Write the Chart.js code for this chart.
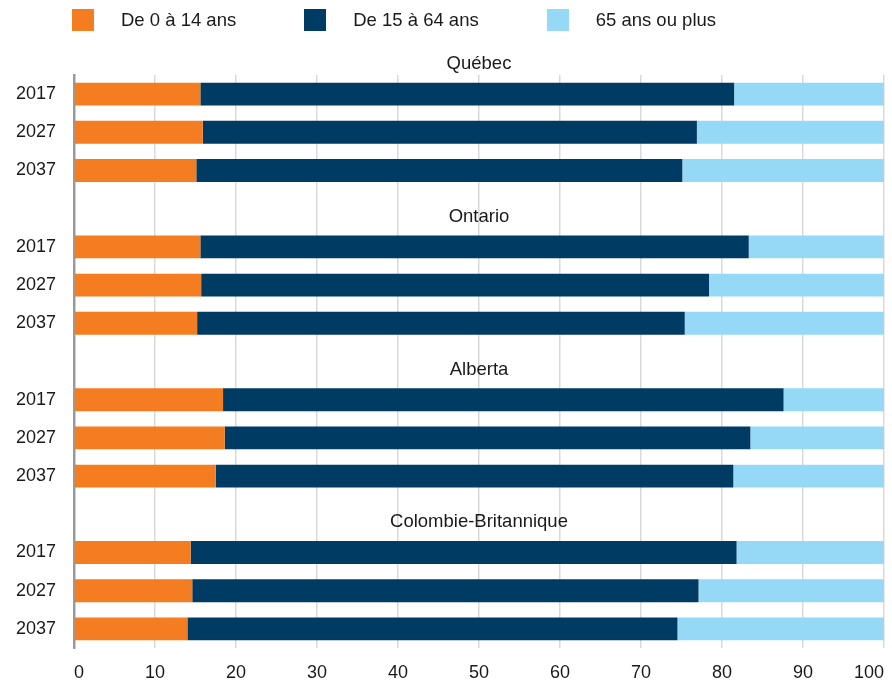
<!DOCTYPE html>
<html lang="fr">
<head>
<meta charset="utf-8">
<script src="https://cdn.jsdelivr.net/npm/chart.js@4.4.1/dist/chart.umd.min.js"></script>
<style>
  html, body { margin: 0; padding: 0; background: #fff; }
  #wrap { position: relative; width: 892px; height: 683px; }
  #chart { position: absolute; left: 0; top: 0; }
  #legend { position: absolute; top: 9px; left: 72px; display: flex; align-items: center;
            font: 18.5px "Liberation Sans", Arial, sans-serif; color: #1a1a1a; }
  .item { display: flex; align-items: center; margin-right: 68px; }
  .box { width: 22px; height: 22px; margin-right: 27px; }
</style>
</head>
<body>
<div id="wrap">
  <canvas id="chart" width="892" height="683"></canvas>
  <div id="legend"></div>
</div>
<script>
const provinces = ['Québec', 'Ontario', 'Alberta', 'Colombie-Britannique'];
const years = ['2017', '2027', '2037'];
const seriesNames = ['De 0 à 14 ans', 'De 15 à 64 ans', '65 ans ou plus'];
const seriesColors = ['#f47c21', '#003b63', '#96d9f7'];
// shares in %, province by province, 2017 / 2027 / 2037
const age0to14  = [15.6, 15.9, 15.1,  15.6, 15.7, 15.2,  18.4, 18.6, 17.5,  14.4, 14.6, 14.0];
const age15to64 = [65.9, 61.0, 60.0,  67.7, 62.7, 60.2,  69.2, 64.9, 63.9,  67.4, 62.5, 60.5];
const age65plus = [18.5, 23.1, 24.9,  16.7, 21.6, 24.6,  12.4, 16.5, 18.6,  18.2, 22.9, 25.5];
const xTickValues = [0, 10, 20, 30, 40, 50, 60, 70, 80, 90, 100];

const FONT = '"Liberation Sans", Arial, sans-serif';

// one row per year, plus an empty row before each province after the first (its title goes there)
const labels = [];
const firstRow = [];
const rowIndex = [];
provinces.forEach((p, i) => {
    if (i > 0) labels.push('');
    firstRow.push(labels.length);
    years.forEach(y => {
        rowIndex.push(labels.length);
        labels.push(y);
    });
});

function toRows(values) {
    const out = labels.map(() => null);
    values.forEach((v, k) => { out[rowIndex[k]] = v; });
    return out;
}

const allSeries = [age0to14, age15to64, age65plus];

// legend
const legend = document.getElementById('legend');
seriesNames.forEach((name, i) => {
    const item = document.createElement('div');
    item.className = 'item';
    item.innerHTML = `<div class="box" style="background:${seriesColors[i]}"></div><span>${name}</span>`;
    legend.appendChild(item);
});

const groupTitles = {
    id: 'groupTitles',
    afterDraw(chart) {
        const y = chart.scales.y;
        const area = chart.chartArea;
        const ctx = chart.ctx;
        const pitch = y.getPixelForTick(1) - y.getPixelForTick(0);
        ctx.save();
        ctx.font = '18.5px ' + FONT;
        ctx.fillStyle = '#1a1a1a';
        ctx.textAlign = 'center';
        ctx.textBaseline = 'middle';
        provinces.forEach((name, i) => {
            const ty = y.getPixelForTick(firstRow[i]) - pitch + 8;
            ctx.fillText(name, (area.left + area.right) / 2, ty);
        });
        ctx.restore();
    }
};

new Chart(document.getElementById('chart'), {
    type: 'bar',
    data: {
        labels: labels,
        datasets: allSeries.map((vals, i) => ({
            label: seriesNames[i],
            data: toRows(vals),
            backgroundColor: seriesColors[i],
            borderWidth: 0,
            barPercentage: 0.6,
            categoryPercentage: 1
        }))
    },
    options: {
        indexAxis: 'y',
        responsive: false,
        animation: false,
        layout: { padding: { top: 75, right: 8, left: 0, bottom: 0 } },
        plugins: { legend: { display: false }, tooltip: { enabled: false } },
        scales: {
            x: {
                stacked: true,
                min: 0,
                max: 100,
                afterBuildTicks: s => { s.ticks = xTickValues.map(v => ({ value: v })); },
                afterFit: s => { s.height = 35; s.paddingLeft = 0; s.paddingRight = 0; },
                grid: { color: '#d9d9d9', lineWidth: 1.5, drawTicks: false },
                border: { display: false },
                ticks: { padding: 14, align: 'inner', color: '#1a1a1a', font: { family: FONT, size: 18 } }
            },
            y: {
                stacked: true,
                afterFit: s => { s.width = 74; s.paddingTop = 0; s.paddingBottom = 0; },
                grid: { display: false, drawTicks: false },
                border: { color: '#9a9a9a', width: 2.5 },
                ticks: { padding: 18, autoSkip: false, color: '#1a1a1a', font: { family: FONT, size: 18 } }
            }
        }
    },
    plugins: [groupTitles]
});
</script>
</body>
</html>
